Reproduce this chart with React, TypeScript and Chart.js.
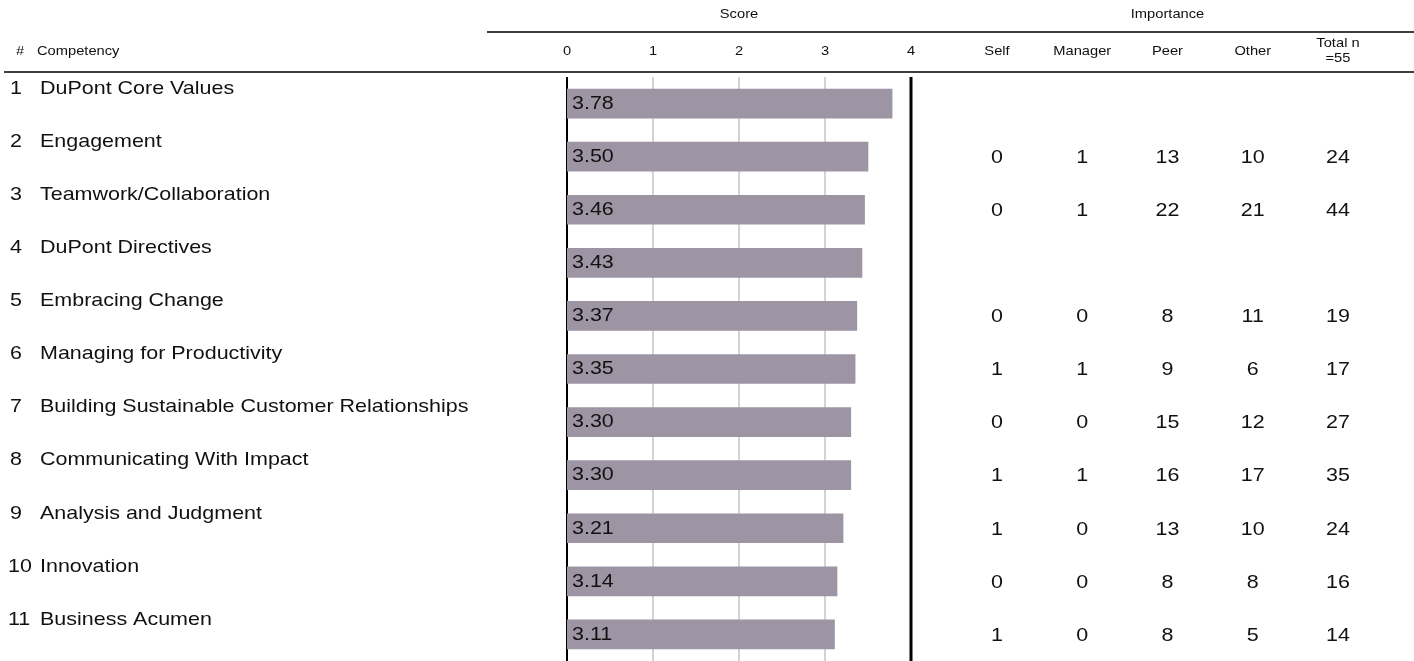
import React, { useEffect, useRef } from "react";
import { Chart, registerables } from "chart.js";

Chart.register(...registerables);

const competencies = [
  "DuPont Core Values",
  "Engagement",
  "Teamwork/Collaboration",
  "DuPont Directives",
  "Embracing Change",
  "Managing for Productivity",
  "Building Sustainable Customer Relationships",
  "Communicating With Impact",
  "Analysis and Judgment",
  "Innovation",
  "Business Acumen",
];
const scores = [3.78, 3.5, 3.46, 3.43, 3.37, 3.35, 3.3, 3.3, 3.21, 3.14, 3.11];
const selfCounts = [null, 0, 0, null, 0, 1, 0, 1, 1, 0, 1];
const managerCounts = [null, 1, 1, null, 0, 1, 0, 1, 0, 0, 0];
const peerCounts = [null, 13, 22, null, 8, 9, 15, 16, 13, 8, 8];
const otherCounts = [null, 10, 21, null, 11, 6, 12, 17, 10, 8, 5];
const totalCounts = [null, 24, 44, null, 19, 17, 27, 35, 24, 16, 14];
const scoreTicks = [0, 1, 2, 3, 4];
const importanceHeaders = ["Self", "Manager", "Peer", "Other"];

const FONT = "'Liberation Sans', Arial, sans-serif";
const SX = 1.13;

function txt(ctx: any, s: string, x: number, y: number, align: string, size: number) {
  ctx.save();
  ctx.font = `${size}px ${FONT}`;
  ctx.textAlign = align;
  ctx.textBaseline = "middle";
  ctx.translate(x, y);
  ctx.scale(SX, 1);
  ctx.fillText(s, 0, 0);
  ctx.restore();
}

const tablePlugin = {
  id: "tablePlugin",
  beforeDatasetsDraw(chart: any) {
    const ctx = chart.ctx;
    const x = chart.scales.x;
    const area = chart.chartArea;
    ctx.save();
    scoreTicks.forEach((t) => {
      const px = Math.round(x.getPixelForValue(t));
      if (t === 0) {
        ctx.strokeStyle = "#000";
        ctx.lineWidth = 2;
      } else if (t === 4) {
        ctx.strokeStyle = "#000";
        ctx.lineWidth = 3;
      } else {
        ctx.strokeStyle = "#d3d3d3";
        ctx.lineWidth = 2;
      }
      ctx.beginPath();
      ctx.moveTo(px, area.top);
      ctx.lineTo(px, area.bottom);
      ctx.stroke();
    });
    ctx.restore();
  },
  afterDatasetsDraw(chart: any) {
    const ctx = chart.ctx;
    const x = chart.scales.x;
    const y = chart.scales.y;
    const W = chart.width;
    ctx.save();
    ctx.fillStyle = "#111";
    ctx.strokeStyle = "#000";
    ctx.lineWidth = 1.5;
    ctx.beginPath();
    ctx.moveTo(487, 32);
    ctx.lineTo(W, 32);
    ctx.moveTo(4, 72);
    ctx.lineTo(W, 72);
    ctx.stroke();

    const x0 = x.getPixelForValue(0);
    const x4 = x.getPixelForValue(4);
    txt(ctx, "Score", (x0 + x4) / 2, 14, "center", 13);
    scoreTicks.forEach((t) => {
      txt(ctx, String(t), x.getPixelForValue(t), 51, "center", 13);
    });
    const colStart = 997;
    const colStep = 85.25;
    txt(ctx, "Importance", colStart + colStep * 2, 14, "center", 13);
    importanceHeaders.forEach((h, i) => {
      txt(ctx, h, colStart + colStep * i, 51, "center", 13);
    });
    txt(ctx, "Total n", colStart + colStep * 4, 43, "center", 13);
    txt(ctx, "=55", colStart + colStep * 4, 58, "center", 13);
    txt(ctx, "#", 16, 51, "left", 13);
    txt(ctx, "Competency", 37, 51, "left", 13);

    const cols = [selfCounts, managerCounts, peerCounts, otherCounts, totalCounts];
    competencies.forEach((c, i) => {
      const cy = y.getPixelForValue(i);
      const ly = cy - 15;
      txt(ctx, String(i + 1), i + 1 >= 10 ? 8 : 10, ly, "left", 19);
      txt(ctx, c, 40, ly, "left", 19);
      txt(ctx, scores[i].toFixed(2), x0 + 5, cy, "left", 19);
      cols.forEach((arr, j) => {
        const v = arr[i];
        if (v !== null && v !== undefined) {
          txt(ctx, String(v), colStart + colStep * j, cy + 1, "center", 19);
        }
      });
    });
    ctx.restore();
  },
};

export default function App() {
  const ref = useRef<HTMLCanvasElement | null>(null);
  useEffect(() => {
    if (!ref.current) return;
    const chart = new Chart(ref.current, {
      type: "bar",
      data: {
        labels: competencies,
        datasets: [
          {
            data: scores,
            backgroundColor: "#9d95a3",
            borderWidth: 0,
            barThickness: 29,
          },
        ],
      },
      options: {
        indexAxis: "y",
        responsive: false,
        animation: false,
        layout: { padding: { left: 567, right: 503, top: 77, bottom: 0 } },
        scales: {
          x: { type: "linear", min: 0, max: 4, display: false },
          y: { type: "category", display: false },
        },
        plugins: { legend: { display: false }, tooltip: { enabled: false } },
      },
      plugins: [tablePlugin],
    } as any);
    return () => chart.destroy();
  }, []);
  return (
    <div style={{ position: "fixed", left: 0, top: 0, width: 1414, height: 661, background: "#fff" }}>
      <canvas ref={ref} width={1414} height={661} style={{ display: "block" }} />
    </div>
  );
}
